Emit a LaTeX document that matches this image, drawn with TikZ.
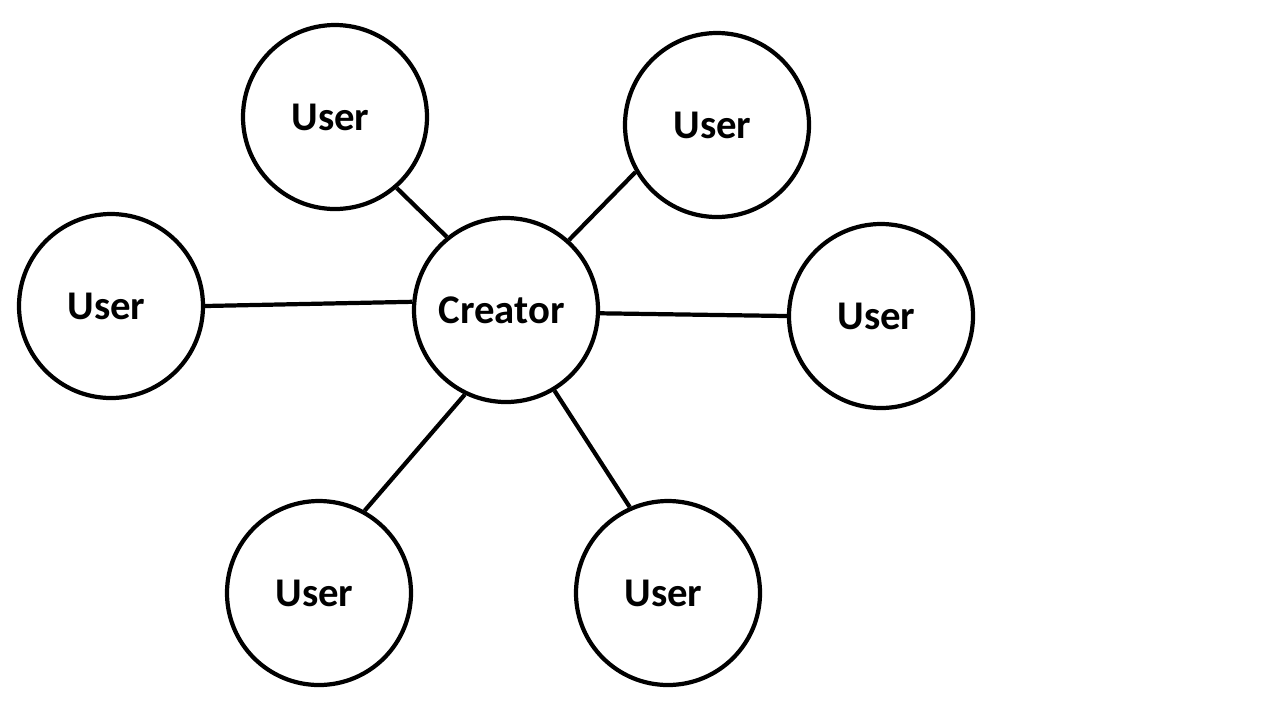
\documentclass[tikz,border=0pt]{standalone}
\usepackage{fontspec}
\setmainfont{Carlito}
\usepackage{tikz}
\usetikzlibrary{positioning}
\tikzset{every picture/.append style={thick}}
\tikzset{
    member/.style={circle, draw, line width=1.2pt, minimum size=18.4mm, inner sep=0pt,
        font=\fontsize{11.6pt}{13pt}\selectfont\bfseries,
        execute at begin node=\hspace*{-0.9mm}},
    link/.style={line width=1.2pt}
}

\begin{document}
\begin{tikzpicture}[x=0.1mm, y=-0.1mm]
    \useasboundingbox (0,0) rectangle (1280,720);
    \node[member] (creator) at (506,310) {Creator};
    \node[member] (u1) at (335,117) {User};
    \node[member] (u2) at (717,125) {User};
    \node[member] (u3) at (111,306) {User};
    \node[member] (u4) at (881,316) {User};
    \node[member] (u5) at (319,593) {User};
    \node[member] (u6) at (668,593) {User};
    \draw[link] (creator.129) -- (u1.311);
    \draw[link] (creator.48) -- (u2.210);
    \draw[link] (creator.175) -- (u3.0);
    \draw[link] (creator.358) -- (u4.180);
    \draw[link] (creator.244) -- (u5.61);
    \draw[link] (creator.301) -- (u6.114);
\end{tikzpicture}
\end{document}
